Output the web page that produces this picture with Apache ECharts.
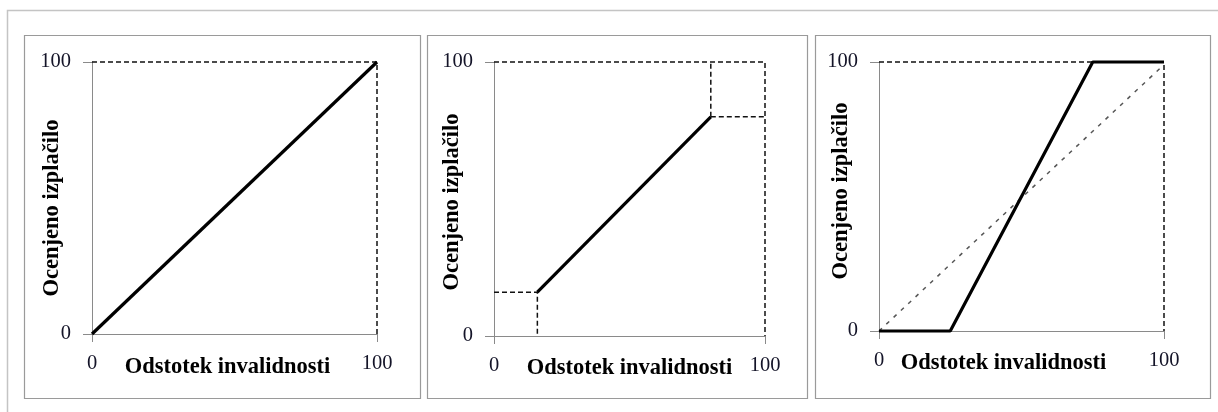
<!DOCTYPE html>
<html><head><meta charset="utf-8">
<script src="https://cdn.jsdelivr.net/npm/echarts@6/dist/echarts.min.js"></script>
<style>html,body{margin:0;padding:0;background:#fff}#c{width:1218px;height:412px}</style>
</head><body><div id="c"></div>
<script>
// ---- data ----
const xTicks = [0, 100];
const yTicks = [0, 100];
const xTitle = 'Odstotek invalidnosti';
const yTitle = 'Ocenjeno izplačilo';
// panel 1
const p1Solid = [[0, 0], [100, 100]];
const p1Frame = [[0, 100], [100, 100], [100, 0]];
// panel 2
const p2Solid = [[16, 16], [80, 80]];
const p2Frame = [[0, 100], [100, 100], [100, 0]];
const p2LowGuide = [[0, 16], [16, 16], [16, 0]];
const p2HighGuideV = [[80, 80], [80, 100]];
const p2HighGuideH = [[80, 80], [100, 80]];
// panel 3
const p3Solid = [[0, 0], [25, 0], [75, 100], [100, 100]];
const p3Frame = [[0, 100], [100, 100], [100, 0]];
const p3Diagonal = [[0, 0], [100, 99]];

const FONT = '"Liberation Serif", "Times New Roman", serif';
const grids = [
  {left: 92, top: 62, width: 285, height: 272},
  {left: 494, top: 62, width: 271, height: 274},
  {left: 879, top: 62, width: 285, height: 269}
];
const xNamePad = [[0, 14, 0, 0], [0, 0, 0, 0], [0, 36, 0, 0]];
const yNamePad = [[0, 20, 0, 0], [0, 6, 0, 0], [0, 0, 0, 11]];
const xNameGap = [22, 21, 21];
const yNameGap = [28, 30, 26];

function xAx(i) {
  return {
    type: 'value', gridIndex: i, min: xTicks[0], max: xTicks[1], interval: 100,
    splitLine: {show: false},
    axisLine: {lineStyle: {color: '#8a8a8a', width: 1}},
    axisTick: {show: true, length: 8, lineStyle: {color: '#8a8a8a'}},
    axisLabel: {margin: 19, color: '#141428', fontFamily: FONT, fontSize: 20.5},
    name: xTitle, nameLocation: 'middle', nameGap: xNameGap[i], nameMoveOverlap: false,
    nameTextStyle: {fontFamily: FONT, fontSize: 22.5, fontWeight: 'bold', color: '#000', padding: xNamePad[i]}
  };
}
function yAx(i) {
  return {
    type: 'value', gridIndex: i, min: yTicks[0], max: yTicks[1], interval: 100,
    splitLine: {show: false},
    axisLine: {show: true, lineStyle: {color: '#8a8a8a', width: 1}},
    axisTick: {show: true, length: 9, lineStyle: {color: '#8a8a8a'}},
    axisLabel: {margin: 21, color: '#141428', fontFamily: FONT, fontSize: 20.5},
    name: yTitle, nameLocation: 'middle', nameGap: yNameGap[i], nameMoveOverlap: false,
    nameTextStyle: {fontFamily: FONT, fontSize: 22.5, fontWeight: 'bold', color: '#000', padding: yNamePad[i]}
  };
}
function solid(i, d) {
  return {type: 'line', xAxisIndex: i, yAxisIndex: i, data: d, symbol: 'none', clip: false,
    lineStyle: {color: '#000', width: 3.2}, z: 5, animation: false};
}
function dashed(i, d, col, dash) {
  return {type: 'line', xAxisIndex: i, yAxisIndex: i, data: d, symbol: 'none', clip: false,
    lineStyle: {color: col || '#111', width: 1.5, type: dash || [5, 3]}, z: 3, animation: false};
}

const option = {
  animation: false,
  grid: grids,
  xAxis: [xAx(0), xAx(1), xAx(2)],
  yAxis: [yAx(0), yAx(1), yAx(2)],
  series: [
    dashed(0, p1Frame), solid(0, p1Solid),
    dashed(1, p2Frame), dashed(1, p2LowGuide), dashed(1, p2HighGuideV), dashed(1, p2HighGuideH), solid(1, p2Solid),
    dashed(2, p3Frame), dashed(2, p3Diagonal, '#555', [4, 6]), solid(2, p3Solid)
  ],
  graphic: [
    {type: 'rect', shape: {x: 7.5, y: 10.5, width: 1230, height: 420}, style: {fill: 'none', stroke: '#c4c4c4', lineWidth: 1.5}, silent: true, z: 0},
    {type: 'rect', shape: {x: 24.5, y: 35.5, width: 396, height: 363}, style: {fill: 'none', stroke: '#9a9a9a', lineWidth: 1.2}, silent: true},
    {type: 'rect', shape: {x: 427.5, y: 35.5, width: 380, height: 363}, style: {fill: 'none', stroke: '#9a9a9a', lineWidth: 1.2}, silent: true},
    {type: 'rect', shape: {x: 815.5, y: 35.5, width: 395, height: 363}, style: {fill: 'none', stroke: '#9a9a9a', lineWidth: 1.2}, silent: true}
  ]
};
const chart = echarts.init(document.getElementById('c'), null, {renderer: 'canvas'});
chart.setOption(option);
</script></body></html>
